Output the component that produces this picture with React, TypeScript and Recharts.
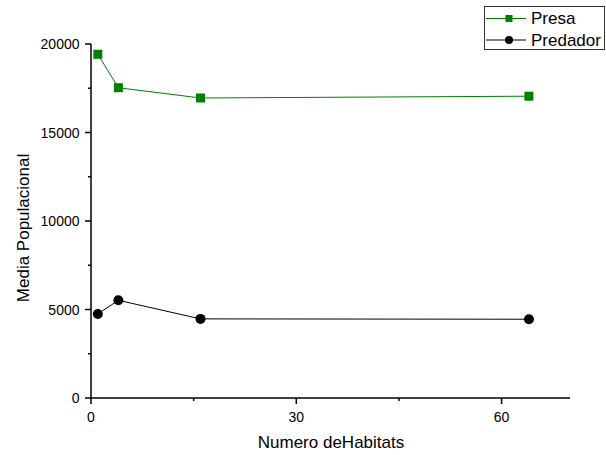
import { CartesianGrid, Label, Legend, Line, LineChart, XAxis, YAxis } from "recharts";

const habitats = [1, 4, 16, 64];
const presa = [19420, 17530, 16950, 17050];
const predador = [4750, 5520, 4470, 4450];

const xTicks = [0, 15, 30, 45, 60];
const xLabeled = [0, 30, 60];
const yTicks = [0, 2500, 5000, 7500, 10000, 12500, 15000, 17500, 20000];
const yLabeled = [0, 5000, 10000, 15000, 20000];

const GREEN = "#008000";
const FONT = "'Liberation Sans', Arial, sans-serif";

const data = habitats.map((h, i) => ({ h, presa: presa[i], predador: predador[i] }));

function XTick(props: any) {
  const { x, y, payload } = props;
  const major = xLabeled.includes(payload.value);
  return (
    <g>
      <line x1={x} x2={x} y1={y} y2={y + (major ? 6 : 3)} stroke="#000" strokeWidth={1.5} />
      {major && (
        <text x={x} y={y + 24} textAnchor="middle" fontSize={14} fontFamily={FONT} fill="#000">
          {payload.value}
        </text>
      )}
    </g>
  );
}

function YTick(props: any) {
  const { x, y, payload } = props;
  const major = yLabeled.includes(payload.value);
  return (
    <g>
      <line x1={x} x2={x - (major ? 6 : 3)} y1={y} y2={y} stroke="#000" strokeWidth={1.5} />
      {major && (
        <text x={x - 11.5} y={y + 5} textAnchor="end" fontSize={14} fontFamily={FONT} fill="#000">
          {payload.value}
        </text>
      )}
    </g>
  );
}

function SquareDot(props: any) {
  const { cx, cy, index } = props;
  return <rect key={`sq-${index}`} x={cx - 4.5} y={cy - 4.5} width={9} height={9} fill={GREEN} />;
}

function LegendBox() {
  return (
    <svg width={122} height={46} style={{ display: "block" }}>
      <rect x={0.5} y={0.5} width={120} height={43} fill="#fff" stroke="#333" strokeWidth={1} />
      <line x1={2} x2={42} y1={12.5} y2={12.5} stroke={GREEN} strokeWidth={1} />
      <rect x={21.5} y={9} width={7} height={7} fill={GREEN} />
      <text x={47} y={12.5} dominantBaseline="central" fontSize={17} fontFamily={FONT} fill="#000">
        Presa
      </text>
      <line x1={2} x2={42} y1={34} y2={34} stroke="#000" strokeWidth={1} />
      <circle cx={25} cy={34} r={4} fill="#000" />
      <text x={47} y={34} dominantBaseline="central" fontSize={17} fontFamily={FONT} fill="#000">
        Predador
      </text>
    </svg>
  );
}

export default function App() {
  return (
    <div style={{ position: "absolute", left: 0, top: 0, background: "#fff" }}>
      <LineChart
        width={606}
        height={455}
        data={data}
        margin={{ top: 44, right: 36, left: 0, bottom: 0 }}
      >
        <CartesianGrid stroke="none" />
        <XAxis
          dataKey="h"
          type="number"
          domain={[0, 70]}
          ticks={xTicks}
          interval={0}
          height={57}
          tickSize={0}
          tickMargin={0}
          tickLine={false}
          tick={<XTick />}
          axisLine={{ stroke: "#000", strokeWidth: 1.5 }}
        >
          <Label
            content={() => (
              <text x={331} y={448} textAnchor="middle" fontSize={17} fontFamily={FONT} fill="#000">
                Numero deHabitats
              </text>
            )}
          />
        </XAxis>
        <YAxis
          type="number"
          domain={[0, 20000]}
          ticks={yTicks}
          interval={0}
          width={91}
          tickSize={0}
          tickMargin={0}
          tickLine={false}
          tick={<YTick />}
          axisLine={{ stroke: "#000", strokeWidth: 1.5 }}
        >
          <Label
            content={() => (
              <text
                x={23}
                y={228}
                transform="rotate(-90, 23, 228)"
                textAnchor="middle"
                dominantBaseline="central"
                fontSize={17}
                fontFamily={FONT}
                fill="#000"
              >
                Media Populacional
              </text>
            )}
          />
        </YAxis>
        <Legend
          layout="vertical"
          align="center"
          verticalAlign="middle"
          wrapperStyle={{ position: "absolute", left: 484, top: 6, width: 122, height: 46 }}
          content={() => <LegendBox />}
        />
        <Line
          type="linear"
          dataKey="presa"
          name="Presa"
          stroke={GREEN}
          strokeWidth={1}
          dot={<SquareDot />}
          isAnimationActive={false}
        />
        <Line
          type="linear"
          dataKey="predador"
          name="Predador"
          stroke="#000"
          strokeWidth={1}
          dot={{ r: 5, fill: "#000", stroke: "#000", strokeWidth: 0 }}
          isAnimationActive={false}
        />
      </LineChart>
    </div>
  );
}
